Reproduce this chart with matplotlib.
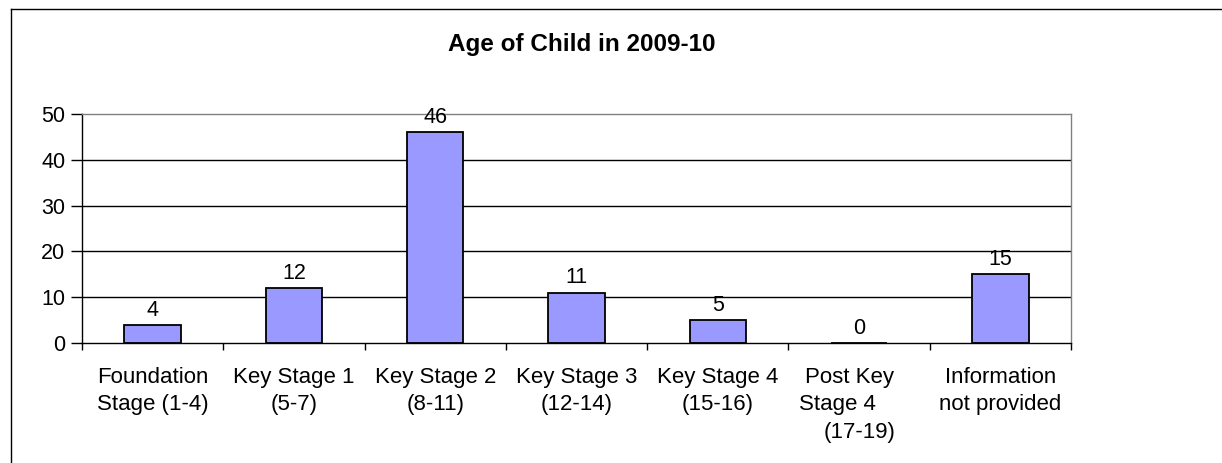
import numpy as np
import matplotlib
matplotlib.use("Agg")
from matplotlib import pyplot as plt
from matplotlib.lines import Line2D

categories = ["Foundation\nStage (1-4)", "Key Stage 1\n(5-7)", "Key Stage 2\n(8-11)",
              "Key Stage 3\n(12-14)", "Key Stage 4\n(15-16)",
              "Post Key   \nStage 4       \n(17-19)", "Information\nnot provided"]
counts = [4, 12, 46, 11, 5, 0, 15]
yticks = [0, 10, 20, 30, 40, 50]

plt.rcParams["font.family"] = ["Liberation Sans", "DejaVu Sans"]

fig = plt.figure(figsize=(12.22, 4.63), dpi=100)
ax = fig.add_axes([82 / 1222, 1 - 343 / 463, (1071 - 82) / 1222, (343 - 114) / 463])

x = np.arange(len(counts))
ax.bar(x, counts, width=0.4, color="#9999FF", edgecolor="black", linewidth=1.3, zorder=3)
for xi, c in zip(x, counts):
    ax.annotate(str(c), (xi, c), xytext=(0, 3), textcoords="offset points",
                ha="center", va="bottom", fontsize=15.5)

ax.set_xlim(-0.5, len(counts) - 0.5)
ax.set_ylim(0, 50)
ax.set_yticks(yticks)
ax.set_yticklabels([str(t) for t in yticks], fontsize=15.5)
ax.set_xticks(x)
ax.set_xticklabels(categories, fontsize=16, linespacing=1.42)
ax.set_xticks(np.arange(len(counts) + 1) - 0.5, minor=True)
ax.tick_params(axis="x", which="major", length=0, pad=17)
ax.tick_params(axis="x", which="minor", length=5, width=1, direction="out")
ax.tick_params(axis="y", length=8, width=1, direction="out", pad=4)

for t in yticks[1:-1]:
    ax.axhline(t, color="black", linewidth=1, zorder=1)

ax.spines["left"].set_color("black")
ax.spines["bottom"].set_color("black")
ax.spines["top"].set_color("#808080")
ax.spines["right"].set_color("#808080")
for s in ax.spines.values():
    s.set_linewidth(1)
ax.spines["bottom"].set_zorder(4)

fig.text(0.476, 1 - 44 / 463, "Age of Child in 2009-10", ha="center", va="center",
         fontsize=17.5, fontweight="bold")

# chart-area border (only left and top edges visible)
fig.add_artist(Line2D([11 / 1222, 11 / 1222], [0, 1 - 9 / 463], color="black", linewidth=1))
fig.add_artist(Line2D([11 / 1222, 1], [1 - 9 / 463, 1 - 9 / 463], color="black", linewidth=1))

fig.savefig("out.png", dpi=100)
